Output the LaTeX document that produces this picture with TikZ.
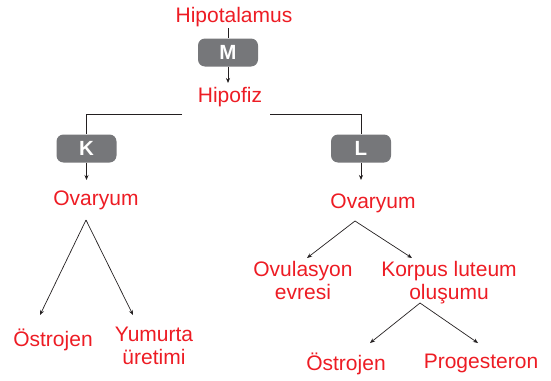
\documentclass[tikz,border=0pt]{standalone}
\usepackage{fontspec}
\setmainfont{Liberation Sans}
\usetikzlibrary{arrows.meta}
\definecolor{txtred}{RGB}{237,28,36}
\definecolor{boxgray}{RGB}{118,119,122}
\definecolor{linecol}{RGB}{35,31,32}
\tikzset{
  lbl/.style={text=txtred, inner sep=0pt, outer sep=0pt, align=center,
    font=\fontsize{21}{23.5}\selectfont},
  hbox/.style={fill=boxgray, rounded corners=7pt, minimum width=60pt,
    minimum height=28pt, inner sep=0pt, text=white,
    font=\fontsize{20.5}{21}\selectfont\bfseries},
  conn/.style={draw=linecol, line width=0.7pt},
  arr/.style={conn, -{Stealth[length=5pt,width=4pt]}}
}
\begin{document}
\begin{tikzpicture}[x=1pt,y=-1pt]
\useasboundingbox (0,0) rectangle (551,380);
% text nodes
\node[lbl, anchor=base] (hip) at (234,23) {Hipotalamus};
\node[lbl, anchor=base] (hpf) at (230,102) {Hipofiz};
\node[lbl, anchor=base] (ovk) at (96,205) {Ovaryum};
\node[lbl, anchor=base] (ovl) at (373,208) {Ovaryum};
\node[lbl, anchor=base] (ostk) at (53,346) {Östrojen};
\node[lbl, anchor=north] (yum) at (154,327) {Yumurta\\üretimi};
\node[lbl, anchor=north] (ovu) at (303,261) {Ovulasyon\\evresi};
\node[lbl, anchor=north] (kor) at (449,261) {Korpus luteum\\oluşumu};
\node[lbl, anchor=base] (ostl) at (346,370) {Östrojen};
\node[lbl, anchor=base] (pro) at (481,368) {Progesteron};
% boxes
\node[hbox] (M) at (228,52.5) {M};
\node[hbox] (K) at (86.5,148.5) {K};
\node[hbox] (L) at (361,148.5) {L};
% helper coordinates
\coordinate (hiptop) at (228,28);
\coordinate (hpfend) at (228,83);
\coordinate (hl) at (182,114);
\coordinate (hr) at (270,114);
\coordinate (kend) at (86.5,180);
\coordinate (lend) at (361,180);
\coordinate (apk) at (86,220);
\coordinate (apl) at (355,221);
\coordinate (apc) at (420,303);
\coordinate (ek1) at (40,315);
\coordinate (ek2) at (133,315);
\coordinate (el1) at (307,258);
\coordinate (el2) at (412,258);
\coordinate (ec1) at (370,343);
\coordinate (ec2) at (478,343);
% connectors
\draw[conn] (hiptop) -- (M.north);
\draw[arr] (M.south) -- (hpfend);
\draw[conn] (hl) -| (K.north);
\draw[conn] (hr) -| (L.north);
\draw[arr] (K.south) -- (kend);
\draw[arr] (L.south) -- (lend);
\draw[arr] (apk) -- (ek1);
\draw[arr] (apk) -- (ek2);
\draw[arr] (apl) -- (el1);
\draw[arr] (apl) -- (el2);
\draw[arr] (apc) -- (ec1);
\draw[arr] (apc) -- (ec2);
\end{tikzpicture}
\end{document}
